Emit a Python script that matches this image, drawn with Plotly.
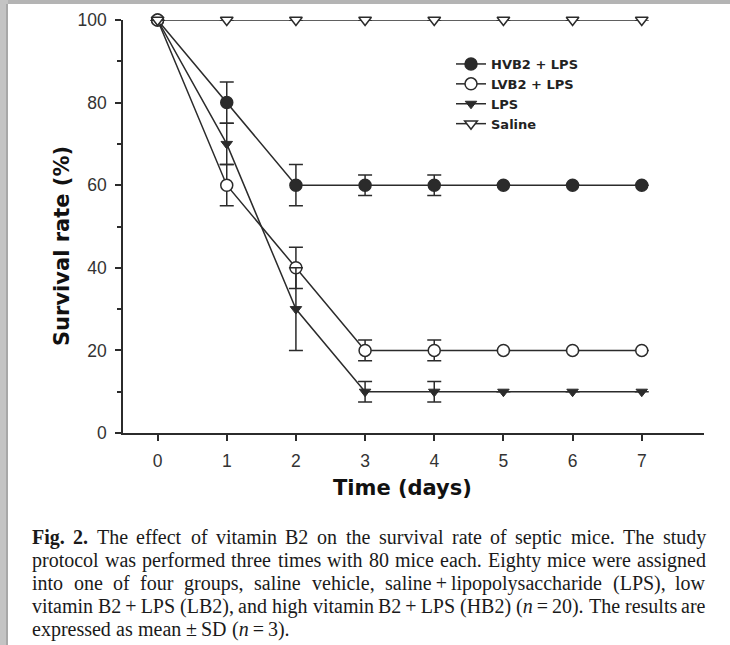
import plotly.graph_objects as go

days = [0, 1, 2, 3, 4, 5, 6, 7]
hvb2 = [100, 80, 60, 60, 60, 60, 60, 60]
hvb2_sd = [0, 5, 5, 2.5, 2.5, 0, 0, 0]
lvb2 = [100, 60, 40, 20, 20, 20, 20, 20]
lvb2_sd = [0, 5, 5, 2.5, 2.5, 0, 0, 0]
lps = [100, 70, 30, 10, 10, 10, 10, 10]
lps_sd = [0, 5, 10, 2.5, 2.5, 0, 0, 0]
saline = [100, 100, 100, 100, 100, 100, 100, 100]
saline_sd = [0, 0, 0, 0, 0, 0, 0, 0]

names = ["HVB2 + LPS", "LVB2 + LPS", "LPS", "Saline"]
x_ticks = [0, 1, 2, 3, 4, 5, 6, 7]
y_ticks = [0, 20, 40, 60, 80, 100]

# caption lines: list of words; "*...*" bold, "_..._" italic
caption_lines = [
    ["*Fig.*", "*2.*", "The", "effect", "of", "vitamin", "B2", "on", "the", "survival", "rate",
     "of", "septic", "mice.", "The", "study"],
    ["protocol", "was", "performed", "three", "times", "with", "80", "mice", "each.", "Eighty",
     "mice", "were", "assigned"],
    ["into", "one", "of", "four", "groups,", "saline", "vehicle,", "saline\u2009+\u2009lipopolysaccharide",
     "(LPS),", "low"],
    ["vitamin", "B2\u2009+\u2009LPS", "(LB2),", "and", "high", "vitamin", "B2\u2009+\u2009LPS", "(HB2)",
     "(_n_\u2009=\u200920).", "The", "results", "are"],
    ["expressed", "as", "mean", "±\u2009SD", "(_n_\u2009=\u20093)."],
]
caption_justify = [True, True, True, True, False]

W, H = 730, 645
L, R, T, B = 123, 704, 20, 433  # plot area in pixels


def px(x):
    return (x - L) / (R - L)


def py(y):
    return (B - y) / (B - T)


LINE = "#2b2b2b"
TITLE_FONT = "DejaVu Sans, Liberation Sans, sans-serif"
fig = go.Figure()

styles = [
    (hvb2, hvb2_sd, dict(symbol="circle", size=12, color=LINE, line=dict(color=LINE, width=1.5))),
    (lvb2, lvb2_sd, dict(symbol="circle", size=12, color="white", line=dict(color=LINE, width=1.5))),
    (lps, lps_sd, dict(symbol="triangle-down", size=10, color=LINE, line=dict(color=LINE, width=1))),
    (saline, saline_sd, dict(symbol="triangle-down", size=11, color="white", line=dict(color=LINE, width=1.5))),
]

for name, (vals, sd, mk) in zip(names, styles):
    fig.add_trace(go.Scatter(
        x=days, y=vals, name=name, mode="lines+markers",
        line=dict(color=LINE, width=1.5),
        marker=mk,
        error_y=dict(type="data", array=sd, visible=True, color=LINE, thickness=1.5, width=7),
        cliponaxis=False,
    ))

fig.update_layout(
    width=W, height=H,
    margin=dict(l=L, r=W - R, t=T, b=H - B, pad=0, autoexpand=False),
    paper_bgcolor="white", plot_bgcolor="white",
    font=dict(family="Liberation Sans, Arial, sans-serif", color="#333"),
    showlegend=True,
    legend=dict(
        x=px(451), y=py(49), xanchor="left", yanchor="top",
        bgcolor="rgba(0,0,0,0)", borderwidth=0,
        font=dict(family=TITLE_FONT, size=13, color="#222", weight="bold"),
        tracegroupgap=0, itemwidth=30,
    ),
    xaxis=dict(
        range=[-0.5, 7.9], tickvals=x_ticks, ticktext=[str(v) for v in x_ticks],
        showgrid=False, zeroline=False, showline=True, linecolor=LINE, linewidth=1.5,
        ticks="outside", ticklen=6, tickwidth=1.5, tickcolor=LINE, automargin=False,
        tickfont=dict(size=17.5, color="#333"), ticklabelstandoff=5,
    ),
    yaxis=dict(
        range=[0, 100], tickmode="linear", tick0=0, dtick=20,
        showgrid=False, zeroline=False, showline=True, linecolor=LINE, linewidth=1.5,
        ticks="outside", ticklen=6, tickwidth=1.5, tickcolor=LINE, automargin=False,
        tickfont=dict(size=17.5, color="#333"), ticklabelstandoff=5,
        minor=dict(ticks="outside", ticklen=4, tickwidth=1.5, tickcolor=LINE,
                   tickmode="linear", tick0=0, dtick=10),
    ),
)

# Axis titles
fig.add_annotation(text="<b>Time (days)</b>", x=px(402), y=py(488), xref="paper", yref="paper",
                   showarrow=False, font=dict(family=TITLE_FONT, size=21, color="#111"),
                   xanchor="center", yanchor="middle")
fig.add_annotation(text="<b>Survival rate (%)</b>", x=px(62), y=py(246), xref="paper", yref="paper",
                   showarrow=False, textangle=-90, font=dict(family=TITLE_FONT, size=21, color="#111"),
                   xanchor="center", yanchor="middle")

# --- Caption: justified text using Times (Liberation Serif) metrics ---
TIMES = {
    " ": 250, "!": 333, "(": 333, ")": 333, "+": 564, ",": 250, "-": 333, ".": 250, "/": 278,
    ":": 278, ";": 278, "=": 564, "±": 564, "\u2009": 200,
    "A": 722, "B": 667, "C": 667, "D": 722, "E": 611, "F": 556, "G": 722, "H": 722, "I": 333,
    "J": 389, "K": 722, "L": 611, "M": 889, "N": 722, "O": 722, "P": 556, "Q": 722, "R": 667,
    "S": 556, "T": 611, "U": 722, "V": 722, "W": 944, "X": 722, "Y": 722, "Z": 611,
    "a": 444, "b": 500, "c": 444, "d": 500, "e": 444, "f": 333, "g": 500, "h": 500, "i": 278,
    "j": 278, "k": 500, "l": 278, "m": 778, "n": 500, "o": 500, "p": 500, "q": 500, "r": 333,
    "s": 389, "t": 278, "u": 500, "v": 500, "w": 722, "x": 500, "y": 500, "z": 444,
}
BOLD = {"F": 611, "i": 278, "g": 500, ".": 250, "2": 500}
for d in "0123456789":
    TIMES[d] = 500

CAP_FS = 20
CAP_LEFT, CAP_RIGHT = 32, 706
cap_y = [537, 560, 583, 606, 629]


def word_markup(w):
    if w.startswith("*") and w.endswith("*"):
        return "<b>" + w[1:-1] + "</b>", w[1:-1], True
    plain = w.replace("_", "")
    html = w
    while "_" in html:
        html = html.replace("_", "<i>", 1).replace("_", "</i>", 1)
    return html, plain, False


def word_width(plain, bold):
    tbl = BOLD if bold else TIMES
    return sum(tbl.get(c, TIMES.get(c, 500)) for c in plain) * CAP_FS / 1000.0


for words, just, yy in zip(caption_lines, caption_justify, cap_y):
    items = [word_markup(w) for w in words]
    widths = [word_width(p, b) for _, p, b in items]
    if just:
        gap = (CAP_RIGHT - CAP_LEFT - sum(widths)) / (len(items) - 1)
    else:
        gap = TIMES[" "] * CAP_FS / 1000.0
    xpos = CAP_LEFT
    for i, ((html, plain, bold), wd) in enumerate(zip(items, widths)):
        last = just and i == len(items) - 1
        fig.add_annotation(
            text=html, x=px(CAP_RIGHT if last else xpos), y=py(yy), xref="paper", yref="paper",
            showarrow=False, xanchor="right" if last else "left", yanchor="middle",
            borderpad=0, borderwidth=0,
            font=dict(family="Liberation Serif, Times New Roman, serif", size=CAP_FS, color="#1a1a1a"),
        )
        xpos += wd + gap

# Frame shadow (top and left)
shadow = [
    (0, 0, W, 4, "#b4b4b4"),
    (0, 0, 8, H, "#c4c4c4"),
    (6, 4, 8, H, "#a8a8a8"),
]
for x0, y0, x1, y1, c in shadow:
    fig.add_shape(type="rect", xref="paper", yref="paper",
                  x0=px(x0), x1=px(x1), y0=py(y0), y1=py(y1),
                  fillcolor=c, line=dict(width=0), layer="above")

fig.write_html("out.html")
